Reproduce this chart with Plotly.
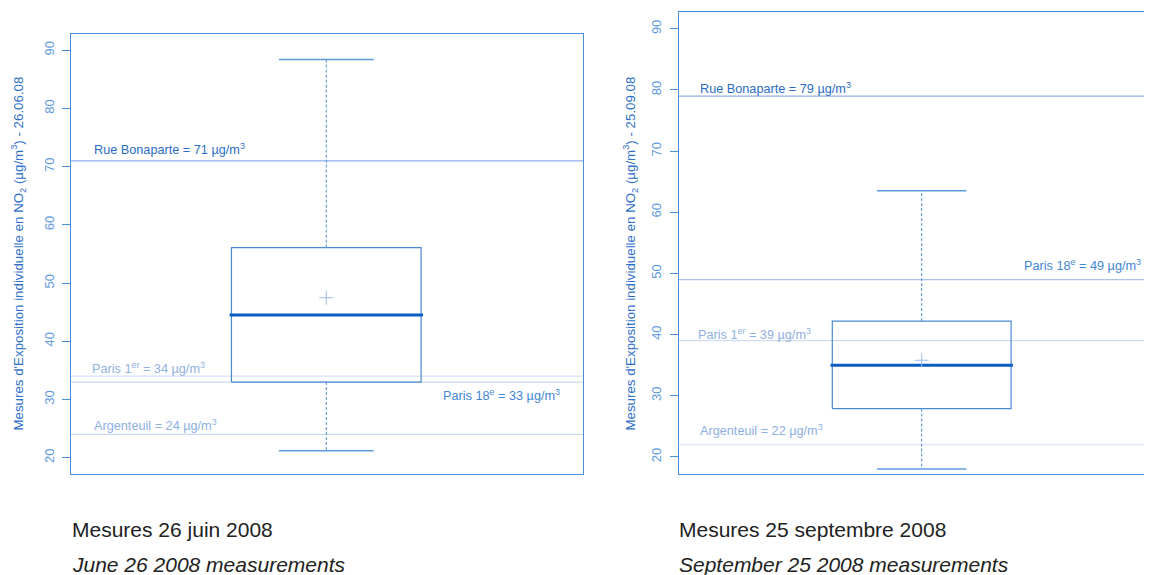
import plotly.graph_objects as go

# ---------------- data ----------------
panels = ["26.06.08", "25.09.08"]
captions_fr = ["Mesures 26 juin 2008", "Mesures 25 septembre 2008"]
captions_en = ["June 26 2008 measurements", "September 25 2008 measurements"]

# box statistics per panel
q1 = [33.0, 27.9]
median = [44.5, 35.0]
q3 = [56.1, 42.2]
whisker_lo = [21.2, 18.0]
whisker_hi = [88.4, 63.5]
mean = [47.5, 35.8]

# reference sites
ref_names = ["Rue Bonaparte", "Paris 1<sup>er</sup>", "Paris 18<sup>e</sup>", "Argenteuil"]
ref_values_june = [71, 34, 33, 24]
ref_values_sept = [79, 39, 49, 22]
ref_values = [ref_values_june, ref_values_sept]

y_ticks = [20, 30, 40, 50, 60, 70, 80, 90]
y_range = [17.2, 92.8]

# ---------------- styles ----------------
OFF = 8  # page body margin of the rendered html
W, H = 1152 - OFF, 575 - OFF
FRAME = "#4a8fd9"
BOX = "#4a8ad4"
MED = "#0b5cc2"
TICKC = "#5e9be0"
TITLEC = "#2e70c9"
ref_line_colors = [
    ["#8db1e8", "#d4e1f5", "#c9d9f1", "#c9daf3"],
    ["#8db1e8", "#cfdcf3", "#a9c4ec", "#dce6f7"],
]
ref_text_colors = [
    ["#2a6cc4", "#8fb0e2", "#3f86d6", "#8cafe3"],
    ["#2a6cc4", "#8fb0e2", "#3f86d6", "#8cafe3"],
]
# label placement: (x domain frac, anchor, yanchor, yshift)
label_pos = [
    [(0.041, "left", "bottom", 2), (0.037, "left", "bottom", -2),
     (0.959, "right", "top", -3), (0.041, "left", "bottom", -1)],
    [(0.041, "left", "bottom", -2), (0.037, "left", "bottom", -3),
     (0.981, "right", "bottom", 5), (0.041, "left", "bottom", 5)],
]

# plot-area pixel geometry (reference pixel coordinates)
px_areas = [
    dict(x0=71, x1=583, y0=34, y1=474),
    dict(x0=678.7, x1=1152, y0=11.7, y1=474),
]
x_ranges = [[0.4615, 1.5415], [0.4564, 1.5152]]
box_half = 0.2
cap_half = 0.1


def px(v):
    return (v - OFF) / W


def py(v):
    return (H - (v - OFF)) / H


fig = go.Figure()

for i in range(2):
    a = px_areas[i]
    xd = [px(a["x0"]), min(1.0, px(a["x1"]))]
    yd = [py(a["y1"]), py(a["y0"])]
    xa = "xaxis" if i == 0 else "xaxis2"
    ya = "yaxis" if i == 0 else "yaxis2"
    xr = "x" if i == 0 else "x2"
    yr = "y" if i == 0 else "y2"

    fig.update_layout(**{
        xa: dict(domain=xd, range=x_ranges[i], showgrid=False, zeroline=False,
                 showticklabels=False, ticks="", showline=True, linecolor=FRAME,
                 linewidth=1.2, mirror=True, anchor=yr),
        ya: dict(domain=yd, range=y_range, showgrid=False, zeroline=False,
                 tickvals=y_ticks, ticktext=[str(t) for t in y_ticks],
                 ticks="outside", ticklen=8, tickcolor=FRAME, tickwidth=1,
                 tickangle=-90, tickfont=dict(family="Liberation Sans", size=13, color=TICKC),
                 showline=True, linecolor=FRAME, linewidth=1.2,
                 mirror=(i == 0), anchor=xr, ticklabelstandoff=3),
    })

    c = 1.0
    # reference lines
    for k, (nm, v) in enumerate(zip(ref_names, ref_values[i])):
        fig.add_shape(type="line", xref=f"{xr} domain", yref=yr, x0=0, x1=1, y0=v, y1=v,
                      line=dict(color=ref_line_colors[i][k], width=1.3), layer="below")
        fx, anc, yanc, ysh = label_pos[i][k]
        fig.add_annotation(xref=f"{xr} domain", yref=yr, x=fx, y=v, xanchor=anc, yanchor=yanc,
                           yshift=ysh, showarrow=False,
                           text=f"{nm} = {v} µg/m<sup>3</sup>",
                           font=dict(family="Liberation Sans", size=12.7, color=ref_text_colors[i][k]))

    # whiskers (dashed)
    fig.add_trace(go.Scatter(x=[c, c, None, c, c], y=[q3[i], whisker_hi[i], None, q1[i], whisker_lo[i]],
                             mode="lines", line=dict(color=BOX, width=1, dash="3px,2px"),
                             xaxis=xr, yaxis=yr, showlegend=False, hoverinfo="skip"))
    # caps
    fig.add_trace(go.Scatter(x=[c - cap_half, c + cap_half, None, c - cap_half, c + cap_half],
                             y=[whisker_hi[i], whisker_hi[i], None, whisker_lo[i], whisker_lo[i]],
                             mode="lines", line=dict(color="#5c9be0", width=1.5),
                             xaxis=xr, yaxis=yr, showlegend=False, hoverinfo="skip"))
    # box
    fig.add_trace(go.Scatter(x=[c - box_half, c + box_half, c + box_half, c - box_half, c - box_half],
                             y=[q1[i], q1[i], q3[i], q3[i], q1[i]],
                             mode="lines", line=dict(color=BOX, width=1.2),
                             xaxis=xr, yaxis=yr, showlegend=False, hoverinfo="skip"))
    # median
    fig.add_trace(go.Scatter(x=[c - box_half - 0.004, c + box_half + 0.004], y=[median[i], median[i]],
                             mode="lines", line=dict(color=MED, width=3),
                             xaxis=xr, yaxis=yr, showlegend=False, hoverinfo="skip"))
    # mean
    fig.add_trace(go.Scatter(x=[c], y=[mean[i]], mode="markers",
                             marker=dict(symbol="cross-thin", size=10, line=dict(color="#9fbfea", width=1)),
                             xaxis=xr, yaxis=yr, showlegend=False, hoverinfo="skip"))

    # y axis title
    title_x = [18, 630][i]
    fig.add_annotation(xref="paper", yref="paper", x=px(title_x), y=py(253.5),
                       xanchor="center", yanchor="middle", textangle=-90, showarrow=False,
                       text=f"Mesures d'Exposition individuelle en NO<sub>2</sub> (µg/m<sup>3</sup>) - {panels[i]}",
                       font=dict(family="Liberation Sans", size=13.3, color=TITLEC))
    # captions
    cap_x = [70, 677][i]
    fig.add_annotation(xref="paper", yref="paper", x=px(cap_x), y=py(529),
                       xanchor="left", yanchor="middle", showarrow=False, text=captions_fr[i],
                       font=dict(family="Liberation Sans", size=21, color="#222222"))
    fig.add_annotation(xref="paper", yref="paper", x=px(cap_x), y=py(564),
                       xanchor="left", yanchor="middle", showarrow=False, text=f"<i>{captions_en[i]}</i>",
                       font=dict(family="Liberation Sans", size=21, color="#222222"))

fig.update_layout(width=W, height=H, margin=dict(l=0, r=0, t=0, b=0),
                  paper_bgcolor="white", plot_bgcolor="white", showlegend=False)

fig.write_html("out.html")
